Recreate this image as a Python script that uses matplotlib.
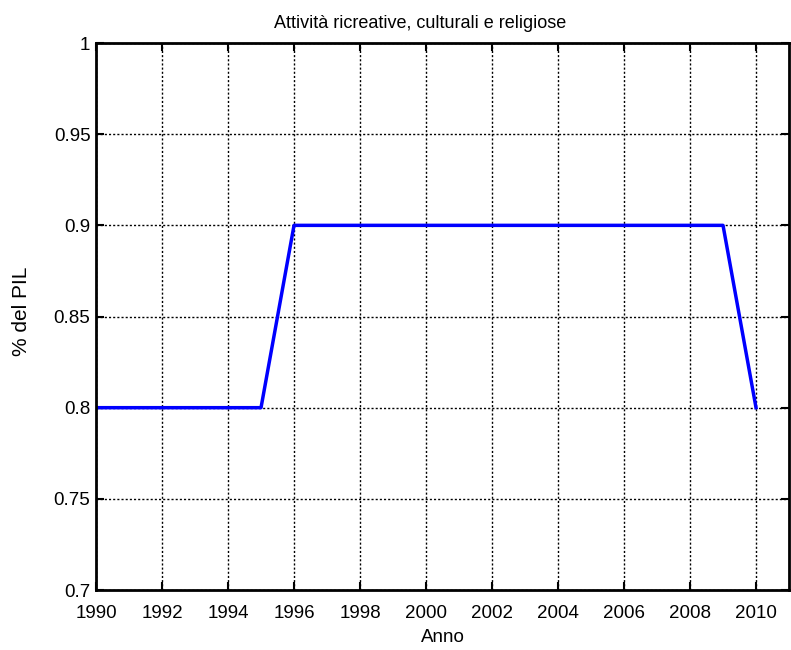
import numpy as np
import matplotlib.pyplot as plt

# dati
anni = [1990, 1991, 1992, 1993, 1994, 1995, 1996, 1997, 1998, 1999, 2000,
        2001, 2002, 2003, 2004, 2005, 2006, 2007, 2008, 2009, 2010]
valori = [0.8, 0.8, 0.8, 0.8, 0.8, 0.8, 0.9, 0.9, 0.9, 0.9, 0.9,
          0.9, 0.9, 0.9, 0.9, 0.9, 0.9, 0.9, 0.9, 0.9, 0.8]
xticks = list(range(1990, 2011, 2))
yticks = [0.7, 0.75, 0.8, 0.85, 0.9, 0.95, 1]
ytick_labels = ["0.7", "0.75", "0.8", "0.85", "0.9", "0.95", "1"]

plt.rcParams['font.family'] = ['Liberation Sans', 'DejaVu Sans']

fig = plt.figure(figsize=(7.91, 6.5), dpi=100)
ax = fig.add_axes([0.1214, 0.0923, 0.8761, 0.8415])

ax.plot(anni, valori, color=(0, 0, 1), lw=2.5)

ax.set_xlim(1990, 2011)
ax.set_ylim(0.7, 1)
ax.set_xticks(xticks)
ax.set_yticks(yticks)
ax.set_yticklabels(ytick_labels)
ax.tick_params(direction='in', top=True, right=True, labelsize=13.5,
               width=1.5, length=6)
ax.tick_params(axis='x', pad=11)
ax.tick_params(axis='y', pad=4)
ax.grid(True, color='black', linestyle=(0, (1.5, 1.5)), linewidth=1)
for s in ax.spines.values():
    s.set_linewidth(2)

# il titolo nel riferimento e' un po' spostato a sinistra
ax.set_title("Attività ricreative, culturali e religiose", fontsize=13,
             pad=10.5, x=0.4675)
ax.set_xlabel("Anno", fontsize=13.5, labelpad=5)
ax.set_ylabel("% del PIL", fontsize=15, labelpad=16)
ax.yaxis.label.set_y(0.51)

fig.savefig("out.png", dpi=100)
